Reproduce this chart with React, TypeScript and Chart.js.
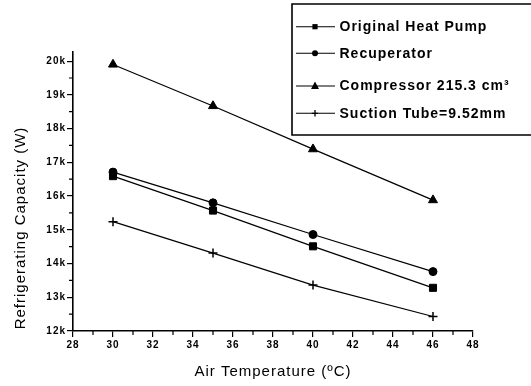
import React, { useEffect, useRef } from 'react';
import { Chart, registerables } from 'chart.js';

Chart.register(...registerables);

// ---- Data ----
const airTemperatures = [30, 35, 40, 46];
const originalHeatPump = [16590, 15570, 14510, 13280];
const recuperator = [16710, 15800, 14860, 13760];
const compressor = [19900, 18670, 17390, 15880];
const suctionTube = [15240, 14310, 13360, 12430];
const seriesNames = [
  'Original Heat Pump',
  'Recuperator',
  'Compressor 215.3 cm\u00B3',
  'Suction Tube=9.52mm',
];
const xTickValues = [28, 30, 32, 34, 36, 38, 40, 42, 44, 46, 48];
const yTickValues = [12000, 13000, 14000, 15000, 16000, 17000, 18000, 19000, 20000];
const xTitle = 'Air Temperature (\u00BAC)';
const yTitle = 'Refrigerating Capacity (W)';

const seriesValues = [originalHeatPump, recuperator, compressor, suctionTube];
const pointStyles = ['rect', 'circle', 'triangle', 'cross'];
const pointRadii = [5, 4, 5.2, 4.5];

const FONT = '"Liberation Sans", Arial, sans-serif';

function drawMarker(ctx: CanvasRenderingContext2D, style: string, x: number, y: number, s: number) {
  ctx.beginPath();
  if (style === 'rect') {
    ctx.rect(x - s, y - s, 2 * s, 2 * s);
    ctx.fill();
  } else if (style === 'circle') {
    ctx.arc(x, y, s, 0, Math.PI * 2);
    ctx.fill();
  } else if (style === 'triangle') {
    ctx.moveTo(x, y - s * 1.1);
    ctx.lineTo(x + s, y + s * 0.75);
    ctx.lineTo(x - s, y + s * 0.75);
    ctx.closePath();
    ctx.fill();
  } else {
    ctx.moveTo(x - s, y);
    ctx.lineTo(x + s, y);
    ctx.moveTo(x, y - s);
    ctx.lineTo(x, y + s);
    ctx.stroke();
  }
}

const spacingPlugin = {
  id: 'spacing',
  beforeLayout(chart: any) {
    (chart.ctx as any).letterSpacing = '1px';
  },
  beforeDraw(chart: any) {
    (chart.ctx as any).letterSpacing = '1px';
  },
};

const decorPlugin = {
  id: 'decor',
  afterDraw(chart: any) {
    const ctx: CanvasRenderingContext2D = chart.ctx;
    const xs = chart.scales.x;
    const ys = chart.scales.y;
    const area = chart.chartArea;
    ctx.save();
    (ctx as any).letterSpacing = '1px';
    ctx.strokeStyle = '#000';
    ctx.fillStyle = '#000';
    ctx.lineWidth = 1.2;
    // minor ticks
    ctx.beginPath();
    for (let v = 29; v < 48; v += 2) {
      const px = xs.getPixelForValue(v);
      ctx.moveTo(px, area.bottom);
      ctx.lineTo(px, area.bottom + 4);
    }
    for (let v = 12500; v < 20500; v += 1000) {
      const py = ys.getPixelForValue(v);
      ctx.moveTo(area.left, py);
      ctx.lineTo(area.left - 4, py);
    }
    ctx.stroke();

    // axis titles
    ctx.font = `15px ${FONT}`;
    ctx.textAlign = 'center';
    ctx.textBaseline = 'middle';
    ctx.fillText(xTitle, 273, 372);
    ctx.save();
    ctx.translate(20.5, 228);
    ctx.rotate(-Math.PI / 2);
    ctx.fillText(yTitle, 0, 0);
    ctx.restore();

    // legend box
    ctx.lineWidth = 1.6;
    ctx.beginPath();
    ctx.moveTo(chart.width + 2, 4);
    ctx.lineTo(292, 4);
    ctx.lineTo(292, 135);
    ctx.lineTo(chart.width + 2, 135);
    ctx.stroke();

    const rowY = [26.7, 53.3, 86, 113.3];
    const legendSizes = [2.6, 3, 4, 3.2];
    ctx.font = `bold 14px ${FONT}`;
    ctx.textAlign = 'left';
    for (let i = 0; i < seriesNames.length; i++) {
      const y = rowY[i];
      ctx.lineWidth = 1.1;
      ctx.beginPath();
      ctx.moveTo(296, y);
      ctx.lineTo(335, y);
      ctx.stroke();
      ctx.lineWidth = 1.3;
      drawMarker(ctx, pointStyles[i], 315, y, legendSizes[i]);
      ctx.fillText(seriesNames[i], 339.5, y + 0.5);
    }
    ctx.restore();
  },
};

export default function App() {
  const canvasRef = useRef<HTMLCanvasElement | null>(null);

  useEffect(() => {
    document.body.style.margin = '0';
    const canvas = canvasRef.current;
    if (!canvas) return;
    const chart = new Chart(canvas, {
      type: 'line',
      data: {
        datasets: seriesNames.map((name, i) => ({
          label: name,
          data: airTemperatures.map((t, j) => ({ x: t, y: seriesValues[i][j] })),
          borderColor: '#000',
          backgroundColor: '#000',
          borderWidth: 1.2,
          pointStyle: pointStyles[i] as any,
          pointRadius: pointRadii[i],
          pointBorderWidth: pointStyles[i] === 'cross' ? 1.5 : 1,
          pointBackgroundColor: '#000',
          pointBorderColor: '#000',
          tension: 0,
          fill: false,
        })),
      },
      options: {
        animation: false,
        responsive: false,
        devicePixelRatio: 1,
        layout: { padding: { top: 52, right: 58, left: 0, bottom: 0 } },
        plugins: {
          legend: { display: false },
          tooltip: { enabled: false },
          title: { display: false },
        },
        scales: {
          x: {
            type: 'linear',
            min: 28,
            max: 48,
            afterBuildTicks: (scale: any) => {
              scale.ticks = xTickValues.map((v) => ({ value: v }));
            },
            afterFit: (scale: any) => {
              scale.height = 55;
            },
            ticks: {
              color: '#000',
              font: { family: FONT, size: 10, weight: 'bold' },
              padding: 2,
              maxRotation: 0,
              autoSkip: false,
              callback: (v: any) => String(v),
            },
            grid: {
              display: true,
              drawOnChartArea: false,
              drawTicks: true,
              tickLength: 6,
              color: '#000',
              lineWidth: 1.2,
            },
            border: { display: true, color: '#000', width: 1.6 },
            title: { display: false },
          },
          y: {
            type: 'linear',
            min: 12000,
            max: 20270,
            afterBuildTicks: (scale: any) => {
              scale.ticks = yTickValues.map((v) => ({ value: v }));
            },
            afterFit: (scale: any) => {
              scale.width = 73;
            },
            ticks: {
              color: '#000',
              font: { family: FONT, size: 10, weight: 'bold' },
              padding: 1,
              autoSkip: false,
              callback: (v: any) => `${Math.round(Number(v) / 1000)}k`,
            },
            grid: {
              display: true,
              drawOnChartArea: false,
              drawTicks: true,
              tickLength: 6,
              color: '#000',
              lineWidth: 1.2,
            },
            border: { display: true, color: '#000', width: 1.6 },
            title: { display: false },
          },
        },
      },
      plugins: [spacingPlugin, decorPlugin],
    });
    return () => chart.destroy();
  }, []);

  return (
    <div style={{ position: 'absolute', left: 0, top: 0, width: 531, height: 386, background: '#fff' }}>
      <canvas ref={canvasRef} width={531} height={386} style={{ width: 531, height: 386, display: 'block' }} />
    </div>
  );
}
